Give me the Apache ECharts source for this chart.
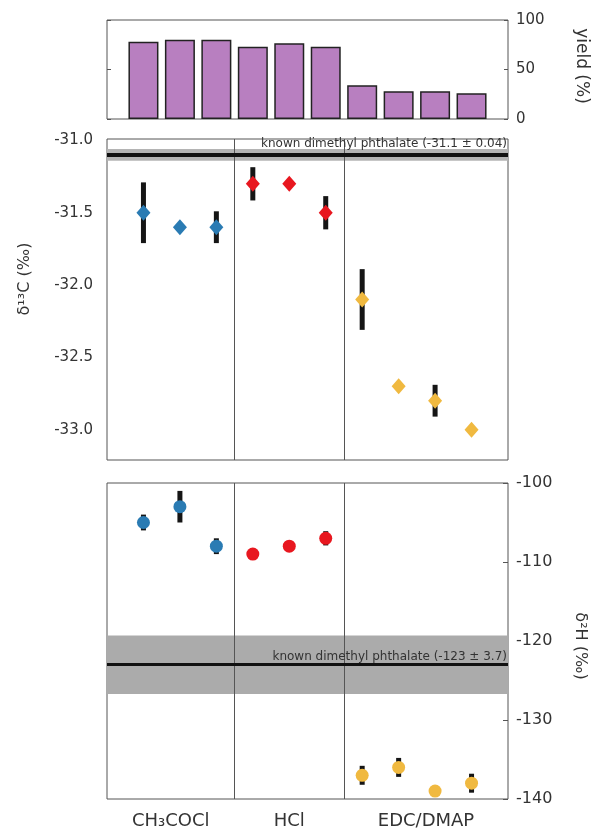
<!DOCTYPE html>
<html>
<head>
<meta charset="utf-8">
<script src="https://cdn.jsdelivr.net/npm/echarts@6/dist/echarts.min.js"></script>
<style>
html,body{margin:0;padding:0;background:#fff;}
#chart{width:592px;height:833px;}
</style>
</head>
<body>
<div id="chart"></div>
<script>
// ---------- data ----------
const samplePos = [1, 2, 3, 4, 5, 6, 7, 8, 9, 10];
const yieldPct = [78, 80, 80, 73, 76.5, 73, 34, 28, 28, 26];
const groupNames = ['CH₃COCl', 'HCl', 'EDC/DMAP'];
const groupDividers = [3.5, 6.5];

const posCH3COCl = [1, 2, 3];
const posHCl = [4, 5, 6];
const posEDC = [7, 8, 9, 10];

const d13C_CH3COCl = [-31.5, -31.6, -31.6];
const d13C_CH3COCl_err = [0.21, 0, 0.11];
const d13C_HCl = [-31.3, -31.3, -31.5];
const d13C_HCl_err = [0.115, 0, 0.115];
const d13C_EDC = [-32.1, -32.7, -32.8, -33.0];
const d13C_EDC_err = [0.21, 0, 0.11, 0];

const d2H_CH3COCl = [-105, -103, -108];
const d2H_CH3COCl_err = [1.0, 2.0, 1.0];
const d2H_HCl = [-109, -108, -107];
const d2H_HCl_err = [0, 0, 0.9];
const d2H_EDC = [-137, -136, -139, -138];
const d2H_EDC_err = [1.2, 1.2, 0, 1.2];

const known13C = -31.1, known13C_err = 0.04;
const known2H = -123, known2H_err = 3.7;

const yieldTicks = [0, 50, 100];
const d13CTicks = [-31.0, -31.5, -32.0, -32.5, -33.0];
const d2HTicks = [-100, -110, -120, -130, -140];

// ---------- helpers ----------
const FONT = 'DejaVu Sans';
const TXT = '#333';
const COL_BLUE = '#2a7bb3', COL_RED = '#e8171f', COL_YEL = '#f0b940';
const xMax = 11;
const groupBounds = [0, ...groupDividers, xMax];
const groupCenters = groupNames.map((_, i) => (groupBounds[i] + groupBounds[i + 1]) / 2);

function pts(xs, ys) { return xs.map((x, i) => [x, ys[i]]); }
function errPts(xs, ys, es) { return xs.map((x, i) => [x, ys[i], es[i]]); }

function errSeries(gi, data) {
  return {
    type: 'custom', xAxisIndex: gi, yAxisIndex: gi, z: 3, silent: true,
    encode: { x: 0, y: 1 },
    data: data,
    renderItem: function (params, api) {
      const x = api.value(0), y = api.value(1), e = api.value(2);
      if (!e) return null;
      const a = api.coord([x, y + e]);
      const b = api.coord([x, y - e]);
      return { type: 'line', shape: { x1: a[0], y1: a[1], x2: b[0], y2: b[1] },
               style: { stroke: '#151515', lineWidth: 5 } };
    }
  };
}
function scat(gi, data, color, symbol, size) {
  return { type: 'scatter', xAxisIndex: gi, yAxisIndex: gi, z: 4, data: data,
           symbol: symbol, symbolSize: size, itemStyle: { color: color, opacity: 1 } };
}
function dividerSeries(gi) {
  return {
    type: 'line', xAxisIndex: gi, yAxisIndex: gi, data: [], z: 1, silent: true,
    markLine: { silent: true, symbol: ['none', 'none'], label: { show: false },
      lineStyle: { color: '#555', width: 1, type: 'solid' },
      data: groupDividers.map(v => ({ xAxis: v })) }
  };
}
function bandSeries(gi, val, err, bandColor, lineW, labelText, dist) {
  return {
    type: 'line', xAxisIndex: gi, yAxisIndex: gi, data: [], z: 2, silent: true,
    markArea: { silent: true, itemStyle: { color: bandColor, opacity: 1 },
      data: [[{ yAxis: val - err }, { yAxis: val + err }]] },
    markLine: { silent: true, symbol: ['none', 'none'],
      lineStyle: { color: '#111', width: lineW, type: 'solid' },
      label: { show: true, position: 'insideEndTop', formatter: labelText,
               fontFamily: FONT, fontSize: 12, color: '#333', distance: dist },
      data: [{ yAxis: val }] }
  };
}

const gridBase = { left: 107, width: 401, show: true, borderColor: '#555', borderWidth: 1, backgroundColor: '#fff' };
const hiddenX = gi => ({ type: 'value', gridIndex: gi, min: 0, max: xMax, show: false });
const noLine = { show: false, onZero: false };

const option = {
  animation: false,
  backgroundColor: '#fff',
  grid: [
    Object.assign({ top: 20, height: 99 }, gridBase),
    Object.assign({ top: 139, height: 321 }, gridBase),
    Object.assign({ top: 483, height: 316 }, gridBase)
  ],
  xAxis: [
    hiddenX(0), hiddenX(1),
    { type: 'value', gridIndex: 2, min: 0, max: xMax,
      axisLine: noLine, axisTick: { show: false }, splitLine: { show: false },
      axisLabel: { customValues: groupCenters, margin: 13, fontFamily: FONT, fontSize: 18, color: TXT,
        formatter: function (v) {
          const i = groupCenters.findIndex(c => Math.abs(c - v) < 1e-6);
          return i >= 0 ? groupNames[i] : '';
        } } }
  ],
  yAxis: [
    { type: 'value', gridIndex: 0, position: 'right', min: 0, max: 100, interval: 50,
      axisLine: noLine, splitLine: { show: false },
      axisTick: { show: true, inside: true, length: 4, lineStyle: { color: '#555' } },
      axisLabel: { margin: 8, fontFamily: FONT, fontSize: 15, color: TXT,
        customValues: yieldTicks } },
    { type: 'value', gridIndex: 1, position: 'left', min: -33.21, max: -30.99,
      axisLine: noLine, splitLine: { show: false }, axisTick: { show: false },
      axisLabel: { customValues: d13CTicks, margin: 14, fontFamily: FONT, fontSize: 15, color: TXT,
        formatter: v => v.toFixed(1) } },
    { type: 'value', gridIndex: 2, position: 'right', min: -140, max: -100, interval: 10,
      axisLine: noLine, splitLine: { show: false },
      axisTick: { show: true, inside: true, length: 5, lineStyle: { color: '#555' } },
      axisLabel: { margin: 8, fontFamily: FONT, fontSize: 16, color: TXT, customValues: d2HTicks } },
    { type: 'value', gridIndex: 0, position: 'left', min: 0, max: 100, interval: 50,
      axisLine: noLine, splitLine: { show: false }, axisLabel: { show: false },
      axisTick: { show: true, inside: true, length: 4, lineStyle: { color: '#555' } } }
  ],
  graphic: [
    { type: 'text', x: 581, y: 66, rotation: -Math.PI / 2,
      style: { text: 'yield (%)', fontFamily: FONT, fontSize: 17, fill: TXT,
               align: 'center', verticalAlign: 'middle', textAlign: 'center', textVerticalAlign: 'middle' } },
    { type: 'text', x: 25, y: 279, rotation: Math.PI / 2,
      style: { text: 'δ¹³C (‰)', fontFamily: FONT, fontSize: 16, fill: TXT,
               align: 'center', verticalAlign: 'middle', textAlign: 'center', textVerticalAlign: 'middle' } },
    { type: 'text', x: 580, y: 646, rotation: -Math.PI / 2,
      style: { text: 'δ²H (‰)', fontFamily: FONT, fontSize: 16, fill: TXT,
               align: 'center', verticalAlign: 'middle', textAlign: 'center', textVerticalAlign: 'middle' } }
  ],
  series: [
    { type: 'bar', xAxisIndex: 0, yAxisIndex: 0, barWidth: 30, data: pts(samplePos, yieldPct),
      itemStyle: { color: '#b87fc0', borderColor: '#222', borderWidth: 1.5 } },

    dividerSeries(1),
    bandSeries(1, known13C, known13C_err, '#b4b4b4', 4,
      'known dimethyl phthalate (' + known13C.toFixed(1) + ' ± ' + known13C_err.toFixed(2) + ')', [1, 5]),
    errSeries(1, errPts(posCH3COCl, d13C_CH3COCl, d13C_CH3COCl_err)),
    errSeries(1, errPts(posHCl, d13C_HCl, d13C_HCl_err)),
    errSeries(1, errPts(posEDC, d13C_EDC, d13C_EDC_err)),
    scat(1, pts(posCH3COCl, d13C_CH3COCl), COL_BLUE, 'diamond', [14, 16]),
    scat(1, pts(posHCl, d13C_HCl), COL_RED, 'diamond', [14, 16]),
    scat(1, pts(posEDC, d13C_EDC), COL_YEL, 'diamond', [14, 16]),

    dividerSeries(2),
    bandSeries(2, known2H, known2H_err, '#ababab', 3,
      'known dimethyl phthalate (' + known2H + ' ± ' + known2H_err + ')', [1, 2]),
    errSeries(2, errPts(posCH3COCl, d2H_CH3COCl, d2H_CH3COCl_err)),
    errSeries(2, errPts(posHCl, d2H_HCl, d2H_HCl_err)),
    errSeries(2, errPts(posEDC, d2H_EDC, d2H_EDC_err)),
    scat(2, pts(posCH3COCl, d2H_CH3COCl), COL_BLUE, 'circle', 13),
    scat(2, pts(posHCl, d2H_HCl), COL_RED, 'circle', 13),
    scat(2, pts(posEDC, d2H_EDC), COL_YEL, 'circle', 13)
  ]
};

const chart = echarts.init(document.getElementById('chart'), null, { renderer: 'canvas' });
chart.setOption(option);
</script>
</body>
</html>
